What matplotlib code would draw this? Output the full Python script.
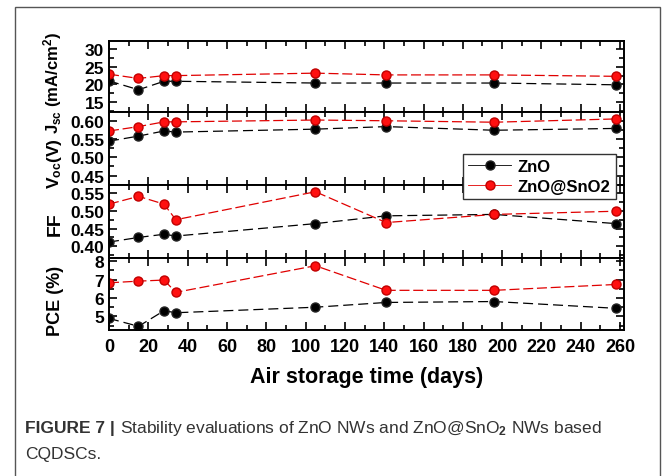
import matplotlib
matplotlib.use("Agg")
import matplotlib.pyplot as plt
from matplotlib.patches import Rectangle
from matplotlib.ticker import MultipleLocator

plt.rcParams['font.family'] = ['Liberation Sans', 'DejaVu Sans']
plt.rcParams['font.weight'] = 'bold'
plt.rcParams['mathtext.fontset'] = 'custom'
plt.rcParams['mathtext.rm'] = 'Liberation Sans'
plt.rcParams['mathtext.it'] = 'Liberation Sans:bold'
plt.rcParams['mathtext.bf'] = 'Liberation Sans:bold'

# storage time (days)
days = [0, 15, 28, 34, 105, 141, 196, 258]

# ZnO
jsc_zno = [21.0, 18.5, 20.9, 20.9, 20.4, 20.4, 20.4, 19.9]
voc_zno = [0.544, 0.558, 0.572, 0.569, 0.577, 0.584, 0.574, 0.579]
ff_zno = [0.412, 0.425, 0.434, 0.429, 0.464, 0.486, 0.490, 0.464]
pce_zno = [4.89, 4.46, 5.31, 5.20, 5.50, 5.76, 5.81, 5.44]

# ZnO@SnO2
jsc_sno = [22.9, 21.7, 22.5, 22.5, 23.2, 22.7, 22.7, 22.3]
voc_sno = [0.572, 0.584, 0.597, 0.597, 0.602, 0.600, 0.596, 0.605]
ff_sno = [0.519, 0.541, 0.519, 0.475, 0.554, 0.467, 0.490, 0.499]
pce_sno = [6.83, 6.92, 6.98, 6.31, 7.76, 6.42, 6.42, 6.74]

W, H = 668, 477
fig = plt.figure(figsize=(W / 100, H / 100), dpi=100)

# outer grey frame of the figure panel
fig.patches.append(Rectangle((15 / W, -0.05), 645 / W, 1 - 8 / H + 0.05,
                             transform=fig.transFigure, fill=False,
                             edgecolor='#555555', linewidth=1.0))

left, width = 109 / W, (624 - 109) / W
# top px, bottom px, data, ylim, tick step, label, format, label size, label centre
panels = [
    (42, 113, jsc_zno, jsc_sno, (12.2, 32.3), 5, r'J$_{\mathbf{sc}}$ (mA/cm$^{\mathbf{2}}$)', '{:.0f}', 12, 0.42),
    (113, 186, voc_zno, voc_sno, (0.424, 0.624), 0.05, r'V$_{\mathbf{oc}}$(V)', '{:.2f}', 12.5, 0.30),
    (186, 259, ff_zno, ff_sno, (0.367, 0.573), 0.05, 'FF', '{:.2f}', 14, 0.48),
    (259, 331, pce_zno, pce_sno, (4.26, 8.18), 1, 'PCE (%)', '{:.0f}', 13, 0.42),
]

axes = []
for top, bot, yz, ys, ylim, step, label, fmt, lsize, lpos in panels:
    ax = fig.add_axes([left, 1 - bot / H, width, (bot - top) / H])
    l1, = ax.plot(days, yz, color='black', lw=0.9, ls=(0, (8, 4)),
                  marker='o', ms=6.5, mfc='black', mec='#222222', label='ZnO')
    l2, = ax.plot(days, ys, color='#e00000', lw=0.9, ls=(0, (8, 3)),
                  marker='o', ms=6.5, mfc='#ff1010', mec='#c00000', label='ZnO@SnO2')
    ax.set_xlim(0, 262)
    ax.set_ylim(*ylim)
    ax.xaxis.set_major_locator(MultipleLocator(20))
    ax.xaxis.set_minor_locator(MultipleLocator(10))
    ax.yaxis.set_major_locator(MultipleLocator(step))
    ax.yaxis.set_minor_locator(MultipleLocator(step / 2))
    ax.yaxis.set_major_formatter(matplotlib.ticker.FuncFormatter(lambda v, p, f=fmt: f.format(v)))
    ax.tick_params(which='both', direction='in', top=True, right=True, width=1.2)
    ax.tick_params(which='major', length=6, labelsize=12.5)
    ax.tick_params(which='minor', length=3.5)
    for s in ax.spines.values():
        s.set_linewidth(1.4)
    ax.set_ylabel(label, fontsize=lsize, fontweight='bold')
    ax.yaxis.set_label_coords(-0.088, lpos)
    if bot != 331:
        ax.tick_params(axis='x', labelbottom=False)
    axes.append(ax)

axes[-1].tick_params(axis='x', labelsize=13, pad=6)
axes[-1].set_xlabel('Air storage time (days)', fontsize=15.5, fontweight='bold', labelpad=8)

leg = fig.legend(handles=[l1, l2], loc='upper left', bbox_to_anchor=(463 / W, 1 - 155 / H),
                 borderaxespad=0, fancybox=False, framealpha=1, edgecolor='#333333',
                 fontsize=12, handlelength=2.6, borderpad=0.3, labelspacing=0.3,
                 handletextpad=0.4)
for ln in leg.get_lines():
    ln.set_linestyle('-')
    ln.set_linewidth(0.6)
leg.get_frame().set_linewidth(1.0)

# caption
cap_font = ['Liberation Sans Narrow', 'Liberation Sans', 'DejaVu Sans']
t1 = fig.text(25 / W, 1 - 433 / H, 'FIGURE 7 | ', fontsize=12.5, fontweight='bold',
              color='#333333', family=cap_font)
fig.canvas.draw()
bb = t1.get_window_extent()
fig.text(bb.x1 / W, 1 - 433 / H,
         r'Stability evaluations of ZnO NWs and ZnO@SnO$_{\mathrm{2}}$ NWs based',
         fontsize=12.5, fontweight='normal', color='#333333', family=cap_font)
fig.text(25 / W, 1 - 459 / H, 'CQDSCs.', fontsize=12.5, fontweight='normal',
         color='#333333', family=cap_font)

fig.savefig('out.png', dpi=100)
